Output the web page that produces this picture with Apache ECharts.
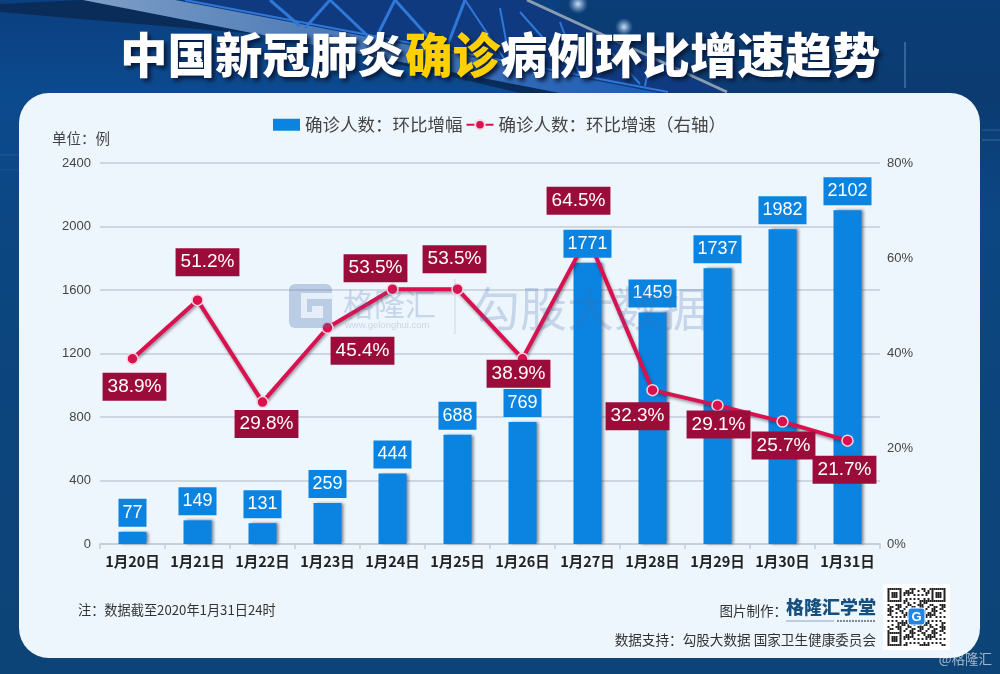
<!DOCTYPE html>
<html>
<head>
<meta charset="utf-8">
<title>中国新冠肺炎确诊病例环比增速趋势</title>
<script src="https://cdn.jsdelivr.net/npm/echarts@6/dist/echarts.min.js"></script>
<style>
html,body{margin:0;padding:0;background:#0d4477;}
#main{width:1000px;height:674px;}
</style>
</head>
<body>
<div id="main"></div>
<script>
var days = ['1月20日','1月21日','1月22日','1月23日','1月24日','1月25日','1月26日','1月27日','1月28日','1月29日','1月30日','1月31日'];
var increase = [77,149,131,259,444,688,769,1771,1459,1737,1982,2102];
var speed = [38.9,51.2,29.8,45.4,53.5,53.5,38.9,64.5,32.3,29.1,25.7,21.7];
var leftTicks = [0,400,800,1200,1600,2000,2400];
var rightTicks = [0,20,40,60,80];
//红色标签相对数据点的偏移
var speedLabelShift = [[2,28],[10,-38],[4,22],[35,23],[-17,-21],[-3,-30],[-4,15],[-9,-36],[-15,26],[1,19],[1,24],[-3,29]];

var numFont = '"Liberation Sans", Arial, sans-serif';
var cjkFont = '"Noto Sans CJK SC", sans-serif';
var barBlue = '#0a84e0';
var lineRed = '#d9124f';
var labelRed = '#9c0c3b';

var speedData = speed.map(function (v, i) {
    return {value: v, label: {offset: speedLabelShift[i]}};
});

// 背景：桥
function beam(x1, y1, x2, y2, color, w) {
    return {type: 'line', z: -9, silent: true, shape: {x1: x1, y1: y1, x2: x2, y2: y2}, style: {stroke: color, lineWidth: w}};
}
function lamp(x, y, r) {
    return {type: 'circle', z: -9, silent: true, shape: {cx: x, cy: y, r: r},
        style: {fill: {type: 'radial', x: 0.5, y: 0.5, r: 0.5, colorStops: [{offset: 0, color: '#cfe0f0'}, {offset: 0.35, color: 'rgba(170,200,230,0.7)'}, {offset: 1, color: 'rgba(120,160,210,0)'}]}}};
}
var bgItems = [
    {type: 'rect', z: -10, silent: true, shape: {x: 0, y: 0, width: 1000, height: 674},
     style: {fill: {type: 'linear', x: 0, y: 0, x2: 0, y2: 1, colorStops: [
        {offset: 0, color: '#0a3f80'}, {offset: 0.14, color: '#0c4a8e'}, {offset: 0.4, color: '#0c4680'}, {offset: 1, color: '#0d4477'}]}}},
    {type: 'rect', z: -10, silent: true, shape: {x: 560, y: 0, width: 440, height: 220},
     style: {fill: {type: 'linear', x: 0, y: 0, x2: 0, y2: 1, colorStops: [
        {offset: 0, color: '#0b3d76'}, {offset: 0.45, color: '#0b3b70'}, {offset: 1, color: 'rgba(11,59,112,0)'}]}}},
    // 桁架底色
    {type: 'polygon', z: -9, silent: true, shape: {points: [[130,0],[527,0],[727,92],[620,93]]}, style: {fill: '#0f3a80'}},
    // 桥下暗带
    {type: 'polygon', z: -9, silent: true, shape: {points: [[0,4],[83,0],[560,93],[520,93],[280,36],[0,12]]}, style: {fill: '#0a2c58'}},
    // 桥面
    {type: 'polygon', z: -9, silent: true, shape: {points: [[83,0],[175,0],[660,93],[560,93]]},
     style: {fill: {type: 'linear', x: 0, y: 0, x2: 1, y2: 0, colorStops: [
        {offset: 0, color: '#7f9fc6'}, {offset: 0.4, color: '#4f7cb8'}, {offset: 1, color: '#1c5cb4'}]}}},
    beam(527, 0, 727, 92, '#8b9db0', 3),
    beam(185, 0, 668, 92, '#2f78d8', 2),
    // 桁架杆件
    beam(270, 0, 300, 26, '#2f78d8', 3), beam(330, 0, 305, 28, '#2f78d8', 3),
    beam(330, 0, 370, 38, '#2f78d8', 3), beam(395, 0, 375, 40, '#2f78d8', 3),
    beam(395, 0, 440, 50, '#2f78d8', 3), beam(465, 0, 445, 52, '#2f78d8', 3),
    beam(465, 0, 505, 60, '#2f78d8', 2), beam(500, 8, 510, 62, '#2f78d8', 2),
    beam(520, 12, 575, 74, '#2f78d8', 2), beam(560, 22, 580, 76, '#2f78d8', 2),
    beam(600, 40, 640, 84, '#2f78d8', 2), beam(650, 60, 645, 86, '#2f78d8', 2),
    beam(905, 42, 905, 88, 'rgba(120,170,230,0.5)', 1.5),
    beam(982, 130, 1000, 130, 'rgba(130,170,220,0.3)', 1),
    beam(982, 140, 1000, 140, 'rgba(110,150,200,0.25)', 2),
    beam(0, 155, 19, 155, 'rgba(130,165,210,0.2)', 1),
    beam(0, 170, 19, 170, 'rgba(110,150,200,0.15)', 1),
    lamp(578, 4, 10), lamp(624, 27, 9),
    {type: 'rect', z: -8, silent: true, shape: {x: 19, y: 93, width: 961, height: 565, r: 30}, style: {fill: '#eef6fd'}}
];

// 水印
var markColor = 'rgba(70,110,175,0.24)';
var markItems = [
    {type: 'rect', z: 6, silent: true, shape: {x: 289, y: 284, width: 43, height: 44, r: 6}, style: {fill: 'rgba(70,110,175,0.3)'}},
    {type: 'polyline', z: 6, silent: true, shape: {points: [[333,296],[304,296],[304,315],[320,315],[320,309],[312,309]]}, style: {stroke: '#e6eff9', fill: null, lineWidth: 6}},
    {type: 'text', z: 6, silent: true, style: {x: 343, y: 304, text: '格隆汇', fill: markColor, font: '31px ' + cjkFont, verticalAlign: 'middle'}},
    {type: 'text', z: 6, silent: true, style: {x: 345, y: 325, text: 'www.gelonghui.com', fill: markColor, font: '9.5px ' + numFont, verticalAlign: 'middle'}},
    {type: 'line', z: 6, silent: true, shape: {x1: 455, y1: 279, x2: 455, y2: 334}, style: {stroke: markColor, lineWidth: 1}},
    {type: 'text', z: 6, silent: true, style: {x: 473, y: 308, text: '勾股大数据', fill: markColor, font: '47px ' + cjkFont, verticalAlign: 'middle'}}
];

// 页脚
var footItems = [
    {type: 'text', silent: true, style: {x: 78, y: 610, text: '注：数据截至2020年1月31日24时', fill: '#333', font: '13.2px ' + cjkFont, verticalAlign: 'middle'}},
    {type: 'text', silent: true, style: {x: 787, y: 611, text: '图片制作：', fill: '#333', font: '13.5px ' + cjkFont, align: 'right', verticalAlign: 'middle'}},
    {type: 'text', silent: true, style: {x: 786, y: 607, text: '格隆汇学堂', fill: '#17507f', font: '900 18px ' + cjkFont, verticalAlign: 'middle'}},
    {type: 'line', silent: true, shape: {x1: 786, y1: 621, x2: 834, y2: 621}, style: {stroke: '#8aa6c0', lineWidth: 1}},
    {type: 'line', silent: true, shape: {x1: 837, y1: 621, x2: 876, y2: 621}, style: {stroke: '#51677c', lineWidth: 1.5, lineDash: [2, 1]}},
    {type: 'text', silent: true, style: {x: 876, y: 640, text: '数据支持：勾股大数据 国家卫生健康委员会', fill: '#333', font: '13.6px ' + cjkFont, align: 'right', verticalAlign: 'middle'}},
    {type: 'text', silent: true, style: {x: 992, y: 659, text: '@格隆汇', fill: 'rgba(255,255,255,0.6)', font: '13.5px ' + cjkFont, align: 'right', verticalAlign: 'middle'}}
];

// 二维码（装饰）
function qrItems() {
    var out = [{type: 'rect', silent: true, shape: {x: 883, y: 584, width: 67, height: 66}, style: {fill: '#fff'}}];
    var n = 29, s = 2, ox = 887.5, oy = 588;
    function finder(r, c) {
        return r < 7 && c < 7 && (r === 0 || r === 6 || c === 0 || c === 6 || (r > 1 && r < 5 && c > 1 && c < 5));
    }
    for (var r = 0; r < n; r++) {
        for (var c = 0; c < n; c++) {
            var on;
            if (r < 8 && c < 8) on = finder(r, c);
            else if (r < 8 && c >= n - 8) on = finder(r, c - n + 7);
            else if (r >= n - 8 && c < 8) on = finder(r - n + 7, c);
            else on = ((r * 7 + c * 13 + r * c * 5) % 11) < 5;
            if (on) out.push({type: 'rect', silent: true, shape: {x: ox + c * s, y: oy + r * s, width: s, height: s}, style: {fill: '#222'}});
        }
    }
    out.push({type: 'rect', silent: true, shape: {x: 908, y: 608, width: 17, height: 17, r: 3}, style: {fill: '#1f86e6', stroke: '#fff', lineWidth: 1}});
    out.push({type: 'text', silent: true, style: {x: 916.5, y: 617, text: 'G', fill: '#fff', font: 'bold 13px ' + numFont, align: 'center', verticalAlign: 'middle'}});
    return out;
}

var myChart = echarts.init(document.getElementById('main'));
var titleRich = {fontSize: 47.5, fontWeight: 900, fontFamily: cjkFont, textShadowColor: '#06183a', textShadowBlur: 4, textShadowOffsetX: 3, textShadowOffsetY: 3};
var option = {
    animation: false,
    textStyle: {fontFamily: cjkFont},
    title: {
        left: 'center', top: 26,
        text: '{w|中国新冠肺炎}{y|确诊}{w|病例环比增速趋势}',
        textStyle: {
            rich: {
                w: Object.assign({color: '#fff'}, titleRich),
                y: Object.assign({color: '#ffd000'}, titleRich)
            }
        }
    },
    legend: {
        top: 111, left: 268,
        data: [{name: '确诊人数：环比增幅', icon: 'rect'}, {name: '确诊人数：环比增速（右轴）'}],
        itemWidth: 27, itemHeight: 12, itemGap: 3,
        textStyle: {fontSize: 17.5, color: '#444', fontFamily: cjkFont}
    },
    grid: {left: 100, right: 120, top: 163, bottom: 130},
    xAxis: {
        type: 'category', data: days,
        axisLine: {lineStyle: {color: '#c3cbd8', width: 1.5}},
        axisTick: {show: true, lineStyle: {color: '#c3cbd8', width: 1.5}, length: 5},
        axisLabel: {interval: 0, color: '#222', fontSize: 14.5, fontWeight: 'bold', fontFamily: cjkFont, margin: 10}
    },
    yAxis: [{
        type: 'value', min: 0, max: leftTicks[leftTicks.length - 1], interval: leftTicks[1],
        name: '单位：例', nameGap: 17,
        nameTextStyle: {color: '#444', fontSize: 14.5, align: 'right', padding: [0, -10, 0, 0], fontFamily: cjkFont},
        axisLine: {show: false}, axisTick: {show: false},
        axisLabel: {color: '#444', fontSize: 13, fontFamily: numFont, margin: 9, formatter: function (v) { return String(v); }},
        splitLine: {lineStyle: {color: '#c3cbd8', width: 1.5}}
    }, {
        type: 'value', min: 0, max: rightTicks[rightTicks.length - 1], interval: rightTicks[1],
        axisLine: {show: false}, axisTick: {show: false},
        axisLabel: {color: '#444', fontSize: 13, fontFamily: numFont, margin: 7, formatter: '{value}%'},
        splitLine: {show: false}
    }],
    series: [{
        name: '确诊人数：环比增幅',
        type: 'bar', z: 2, barWidth: 28, barGap: '-100%',
        itemStyle: {color: barBlue, shadowColor: 'rgba(30,40,60,0.55)', shadowBlur: 3, shadowOffsetX: 2, shadowOffsetY: 0},
        data: increase
    }, {
        name: '确诊人数：环比增速（右轴）',
        type: 'line', z: 3, yAxisIndex: 1,
        symbol: 'circle', symbolSize: 11,
        itemStyle: {color: lineRed, borderColor: '#f6d5de', borderWidth: 1.5},
        lineStyle: {color: lineRed, width: 4, shadowColor: 'rgba(40,30,50,0.45)', shadowBlur: 3, shadowOffsetX: 1, shadowOffsetY: 2},
        label: {
            show: true, position: 'inside', formatter: '{c}%',
            color: '#fff', fontSize: 19, fontFamily: numFont,
            backgroundColor: labelRed, padding: [5, 5, 4, 5]
        },
        data: speedData
    }, {
        // 只用来放蓝色标签，压在折线上面
        name: '增幅标签',
        type: 'bar', z: 4, barWidth: 28, barGap: '-100%', silent: true,
        itemStyle: {color: 'rgba(0,0,0,0)'},
        label: {
            show: true, position: 'top', distance: 5,
            color: '#fff', fontSize: 18, fontFamily: numFont,
            backgroundColor: barBlue, padding: [5, 4, 5, 4]
        },
        data: increase
    }],
    graphic: {elements: bgItems.concat(markItems, footItems, qrItems())}
};
myChart.setOption(option);
</script>
</body>
</html>
